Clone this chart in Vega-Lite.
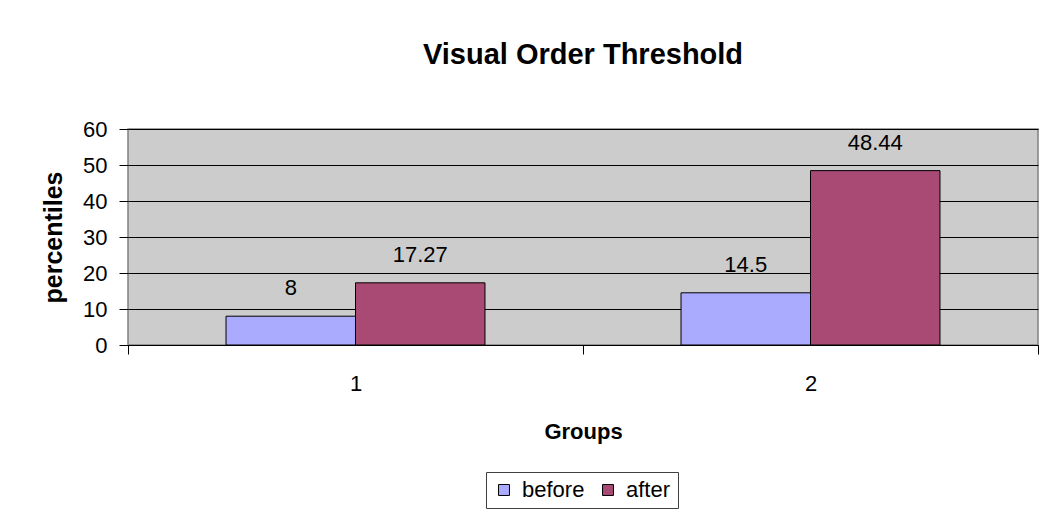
{
  "$schema": "https://vega.github.io/schema/vega-lite/v6.json",
  "width": 910,
  "height": 216,
  "autosize": {"type": "none"},
  "padding": {"left": 128, "top": 129, "right": 4, "bottom": 168},
  "background": "white",
  "title": {
    "text": "Visual Order Threshold",
    "font": "Liberation Sans",
    "fontSize": 29,
    "fontWeight": "bold",
    "color": "black",
    "anchor": "middle",
    "offset": 48
  },
  "data": {
    "values": [
      {"group": "1", "period": "before", "value": 8},
      {"group": "1", "period": "after", "value": 17.27},
      {"group": "2", "period": "before", "value": 14.5},
      {"group": "2", "period": "after", "value": 48.44}
    ]
  },
  "encoding": {
    "x": {
      "field": "group",
      "type": "nominal",
      "scale": {"paddingInner": 0, "paddingOuter": 0},
      "axis": {
        "title": "Groups",
        "titleFont": "Liberation Sans",
        "titleFontSize": 22,
        "titleFontWeight": "bold",
        "titleColor": "black",
        "titlePadding": 27,
        "labelAngle": 0,
        "labelFont": "Liberation Sans",
        "labelFontSize": 22,
        "labelColor": "black",
        "labelPadding": 19,
        "tickBand": "extent",
        "tickSize": 9,
        "tickColor": "black",
        "domainColor": "black",
        "domainWidth": 1
      }
    },
    "xOffset": {
      "field": "period",
      "type": "nominal",
      "sort": ["before", "after"],
      "scale": {"paddingInner": 0, "paddingOuter": 0.757}
    },
    "y": {
      "field": "value",
      "type": "quantitative",
      "scale": {"domain": [0, 60], "nice": false},
      "axis": {
        "title": "percentiles",
        "titleFont": "Liberation Sans",
        "titleFontSize": 25,
        "titleFontWeight": "bold",
        "titleColor": "black",
        "titlePadding": 16,
        "values": [0, 10, 20, 30, 40, 50, 60],
        "grid": true,
        "gridColor": "black",
        "gridWidth": 1,
        "gridOpacity": 1,
        "domain": false,
        "tickColor": "black",
        "tickSize": 9,
        "labelFont": "Liberation Sans",
        "labelFontSize": 22,
        "labelColor": "black",
        "labelPadding": 12
      }
    }
  },
  "layer": [
    {
      "mark": {"type": "bar", "stroke": "black", "strokeWidth": 1},
      "encoding": {
        "color": {
          "field": "period",
          "type": "nominal",
          "sort": ["before", "after"],
          "scale": {"domain": ["before", "after"], "range": ["#AAAAFF", "#A94A74"]},
          "legend": {
            "title": null,
            "orient": "none",
            "legendX": 358,
            "legendY": 343,
            "direction": "horizontal",
            "symbolType": "square",
            "symbolSize": 120,
            "symbolStrokeColor": "black",
            "symbolStrokeWidth": 1,
            "labelFont": "Liberation Sans",
            "labelFontSize": 22,
            "labelColor": "black",
            "columnPadding": 12,
            "labelOffset": 7,
            "strokeColor": "#404040",
            "padding": 7
          }
        }
      }
    },
    {
      "mark": {
        "type": "text",
        "font": "Liberation Sans",
        "fontSize": 22,
        "color": "black",
        "baseline": "middle",
        "dy": -28
      },
      "encoding": {
        "text": {"field": "value", "type": "quantitative"}
      }
    }
  ],
  "config": {
    "view": {"fill": "#CCCCCC", "stroke": "#808080", "strokeWidth": 1.5}
  }
}
